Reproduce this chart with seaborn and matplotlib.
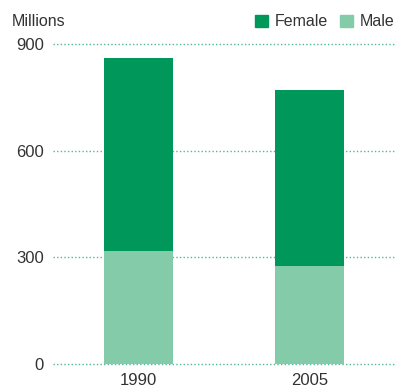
import matplotlib
matplotlib.use("Agg")
import matplotlib.pyplot as plt
import seaborn as sns
import pandas as pd
from matplotlib.patches import Patch

years = ["1990", "2005"]
male = [318, 276]
female = [543, 495]
yticks = [0, 300, 600, 900]

FEMALE_C = "#00985A"
MALE_C = "#84CBAA"
GRID_C = "#52B98F"
TEXT_C = "#333333"
FS = 11.5

sns.set_theme(style="white")
plt.rcParams["font.family"] = ["Liberation Sans", "DejaVu Sans"]

df = pd.DataFrame({"year": years, "male": male, "female": female})
df["total"] = df["male"] + df["female"]

fig = plt.figure(figsize=(3.96, 3.92), dpi=100)
ax = fig.add_axes([53 / 396, 28.3 / 392, 1 - 53 / 396, (363.7 - 44) / 392])

for y in yticks:
    ax.axhline(y, color=GRID_C, lw=1.0, ls=(0, (1, 1.6)), zorder=0, clip_on=False)

# stacked bars: total height in the female colour, male share drawn over it
sns.barplot(data=df, x="year", y="total", color=FEMALE_C, width=0.404,
            saturation=1, linewidth=0, ax=ax, zorder=2)
sns.barplot(data=df, x="year", y="male", color=MALE_C, width=0.404,
            saturation=1, linewidth=0, ax=ax, zorder=3)

ax.set_xlim(-0.5, 1.506)
ax.set_ylim(0, 900)
ax.set_yticks(yticks)
ax.set_yticklabels([str(v) for v in yticks])
ax.set_xlabel("")
ax.set_ylabel("")
for s in ax.spines.values():
    s.set_visible(False)
ax.tick_params(axis="both", length=0, labelsize=FS + 0.5, colors=TEXT_C)
ax.tick_params(axis="y", pad=6.5)
ax.tick_params(axis="x", pad=7)

fig.text(12 / 396, 1 - 21 / 392, "Millions", fontsize=FS, color=TEXT_C,
         va="center", ha="left")

handles = [Patch(color=FEMALE_C, label="Female"), Patch(color=MALE_C, label="Male")]
fig.legend(handles=handles, loc="center right", bbox_to_anchor=(1.0, 1 - 22 / 392),
           ncol=2, frameon=False, fontsize=FS, handlelength=0.8, handleheight=0.8,
           handletextpad=0.4, columnspacing=0.8, borderaxespad=0, borderpad=0.1,
           labelcolor=TEXT_C)

fig.savefig("out.png", dpi=100)
